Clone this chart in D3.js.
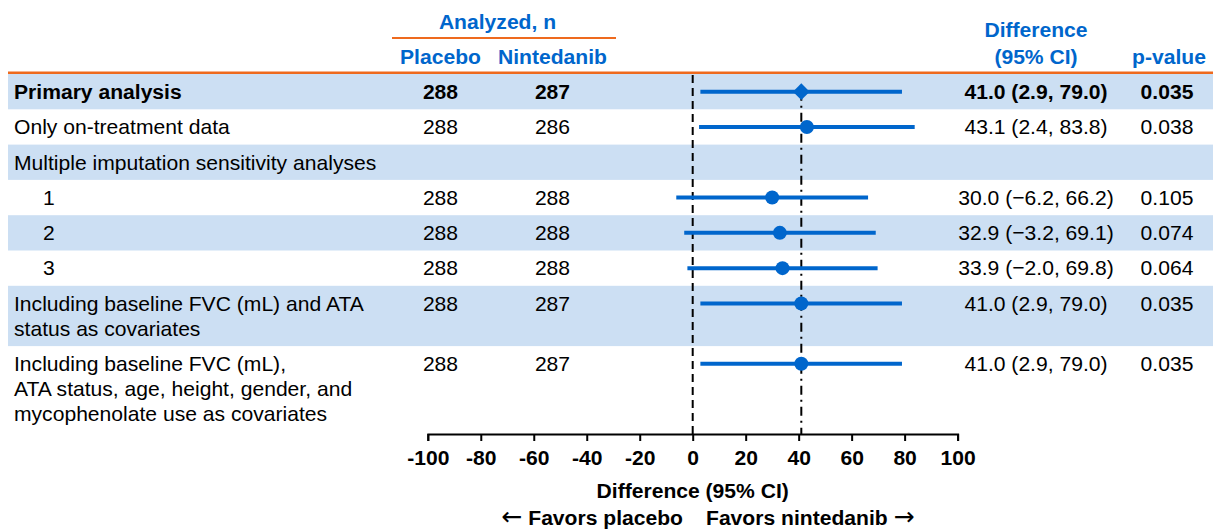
<!DOCTYPE html>
<html>
<head>
<meta charset="utf-8">
<script src="https://cdn.jsdelivr.net/npm/d3@7"></script>
<style>
  html, body { margin: 0; padding: 0; background: #ffffff; }
  svg { display: block; }
  text { font-family: "Liberation Sans", Arial, sans-serif; }
</style>
</head>
<body>
<svg id="chart" width="1213" height="530"></svg>
<script>
// ---------- data ----------
const rowLabels = [
  "Primary analysis",
  "Only on-treatment data",
  "Multiple imputation sensitivity analyses",
  "1",
  "2",
  "3",
  "Including baseline FVC (mL) and ATA\nstatus as covariates",
  "Including baseline FVC (mL),\nATA status, age, height, gender, and\nmycophenolate use as covariates"
];
const rowLevel   = [0, 0, 0, 1, 1, 1, 0, 0];
const rowBold    = [true, false, false, false, false, false, false, false];
const placeboN   = [288, 288, null, 288, 288, 288, 288, 288];
const nintedanibN= [287, 286, null, 288, 288, 288, 287, 287];
const estimate   = [41.0, 43.1, null, 30.0, 32.9, 33.9, 41.0, 41.0];
const ciLow      = [2.9, 2.4, null, -6.2, -3.2, -2.0, 2.9, 2.9];
const ciHigh     = [79.0, 83.8, null, 66.2, 69.1, 69.8, 79.0, 79.0];
const pValues    = ["0.035", "0.038", null, "0.105", "0.074", "0.064", "0.035", "0.035"];
const xTicks     = [-100, -80, -60, -40, -20, 0, 20, 40, 60, 80, 100];
const primaryEstimate = 41.0;

// ---------- layout ----------
const W = 1213, H = 530;
const BLUE = "#0066CC", BAND = "#CCDFF3", ORANGE = "#EE6A1E";
const FS = 21.1;
const tableTop = 74, baseRowH = 35.3, lineH = 25;
const bandLeft = 8, bandRight = 1213;
const axisY = 434;
const colPlacebo = 440.5, colNint = 552.5, colDiff = 1036, colP = 1167;
const labelX = 14, indentX = 43;

const svg = d3.select("#chart");
const x = d3.scaleLinear().domain([-100, 100]).range([427.8, 957.6]);

const rows = rowLabels.map((lab, i) => ({
  i, lines: lab.split("\n"), level: rowLevel[i], bold: rowBold[i],
  pl: placeboN[i], ni: nintedanibN[i], est: estimate[i], lo: ciLow[i], hi: ciHigh[i], p: pValues[i]
}));
let yAcc = tableTop;
rows.forEach(r => {
  r.top = yAcc;
  r.h = baseRowH + (r.lines.length - 1) * lineH;
  r.cy = r.top + baseRowH / 2;
  yAcc += r.h;
});

// bands
svg.append("g").selectAll("rect")
  .data(rows.filter(r => r.i % 2 === 0))
  .join("rect")
  .attr("x", bandLeft).attr("y", r => r.top)
  .attr("width", bandRight - bandLeft).attr("height", r => r.h)
  .attr("fill", BAND);

// header
const hdr = svg.append("g").attr("fill", BLUE).attr("font-weight", "bold").attr("font-size", FS).attr("text-anchor", "middle");
hdr.append("text").attr("x", (colPlacebo + colNint) / 2 + 1).attr("y", 29).text("Analyzed, n");
hdr.append("text").attr("x", colPlacebo).attr("y", 64).text("Placebo");
hdr.append("text").attr("x", colNint).attr("y", 64).text("Nintedanib");
hdr.append("text").attr("x", colDiff).attr("y", 37).text("Difference");
hdr.append("text").attr("x", colDiff).attr("y", 64).text("(95% CI)");
hdr.append("text").attr("x", colP + 2).attr("y", 64).text("p-value");

svg.append("line").attr("x1", 392).attr("x2", 616).attr("y1", 38).attr("y2", 38)
  .attr("stroke", ORANGE).attr("stroke-width", 2);
svg.append("line").attr("x1", bandLeft).attr("x2", bandRight).attr("y1", 72.8).attr("y2", 72.8)
  .attr("stroke", ORANGE).attr("stroke-width", 2.5);

// text columns
const tg = svg.append("g").attr("font-size", FS).attr("fill", "#000");
rows.forEach(r => {
  const fw = r.bold ? "bold" : "normal";
  const t = tg.append("text").attr("x", r.level ? indentX : labelX).attr("y", r.cy + 7.3).attr("font-weight", fw);
  r.lines.forEach((ln, k) => t.append("tspan").attr("x", r.level ? indentX : labelX).attr("dy", k === 0 ? 0 : lineH).text(ln));
  if (r.pl != null) {
    tg.append("text").attr("x", colPlacebo).attr("y", r.cy + 7.3).attr("text-anchor", "middle").attr("font-weight", fw).text(r.pl);
    tg.append("text").attr("x", colNint).attr("y", r.cy + 7.3).attr("text-anchor", "middle").attr("font-weight", fw).text(r.ni);
  }
  if (r.est != null) {
    const f = v => v.toFixed(1).replace("-", "\u2212");
    tg.append("text").attr("x", colDiff).attr("y", r.cy + 7.3).attr("text-anchor", "middle").attr("font-weight", fw)
      .text(`${f(r.est)} (${f(r.lo)}, ${f(r.hi)})`);
    tg.append("text").attr("x", colP).attr("y", r.cy + 7.3).attr("text-anchor", "middle").attr("font-weight", fw).text(r.p);
  }
});

// reference lines
svg.append("line").attr("x1", x(0)).attr("x2", x(0)).attr("y1", tableTop + 1).attr("y2", axisY)
  .attr("stroke", "#000").attr("stroke-width", 2).attr("stroke-dasharray", "8,5");
svg.append("line").attr("x1", x(primaryEstimate)).attr("x2", x(primaryEstimate)).attr("y1", rows[0].cy).attr("y2", axisY)
  .attr("stroke", "#000").attr("stroke-width", 2).attr("stroke-dasharray", "9,5,2,5");

// CI lines and markers
const est = rows.filter(r => r.est != null);
svg.append("g").selectAll("line").data(est).join("line")
  .attr("x1", r => x(r.lo)).attr("x2", r => x(r.hi))
  .attr("y1", r => r.cy).attr("y2", r => r.cy)
  .attr("stroke", BLUE).attr("stroke-width", 4);
svg.append("g").selectAll("path").data(est).join("path")
  .attr("d", r => r.bold ? d3.symbol(d3.symbolSquare, 140)() : d3.symbol(d3.symbolCircle, Math.PI * 7 * 7)())
  .attr("transform", r => `translate(${x(r.est)},${r.cy})` + (r.bold ? " rotate(45)" : ""))
  .attr("fill", BLUE);

// axis
const axis = d3.axisBottom(x).tickValues(xTicks).tickSize(7).tickSizeOuter(7).tickPadding(9)
  .tickFormat(d => String(d));
const ag = svg.append("g").attr("transform", `translate(0,${axisY})`).call(axis);
ag.selectAll("path, line").attr("stroke", "#000").attr("stroke-width", 2);
ag.selectAll("text").attr("font-size", FS).attr("font-weight", "bold").attr("fill", "#000")
  .attr("font-family", "Liberation Sans, Arial, sans-serif");

svg.append("text").attr("x", x(0)).attr("y", 498).attr("text-anchor", "middle")
  .attr("font-size", FS).attr("font-weight", "bold").text("Difference (95% CI)");
const fl = svg.append("text").attr("x", 683).attr("y", 524.5).attr("text-anchor", "end")
  .attr("font-size", FS).attr("font-weight", "bold");
fl.append("tspan").attr("font-family", "DejaVu Sans").attr("font-weight", "normal").attr("font-size", 25).text("\u2190");
fl.append("tspan").text(" Favors placebo");
const fr = svg.append("text").attr("x", 706).attr("y", 524.5).attr("text-anchor", "start")
  .attr("font-size", FS).attr("font-weight", "bold");
fr.append("tspan").text("Favors nintedanib ");
fr.append("tspan").attr("font-family", "DejaVu Sans").attr("font-weight", "normal").attr("font-size", 25).text("\u2192");
</script>
</body>
</html>
